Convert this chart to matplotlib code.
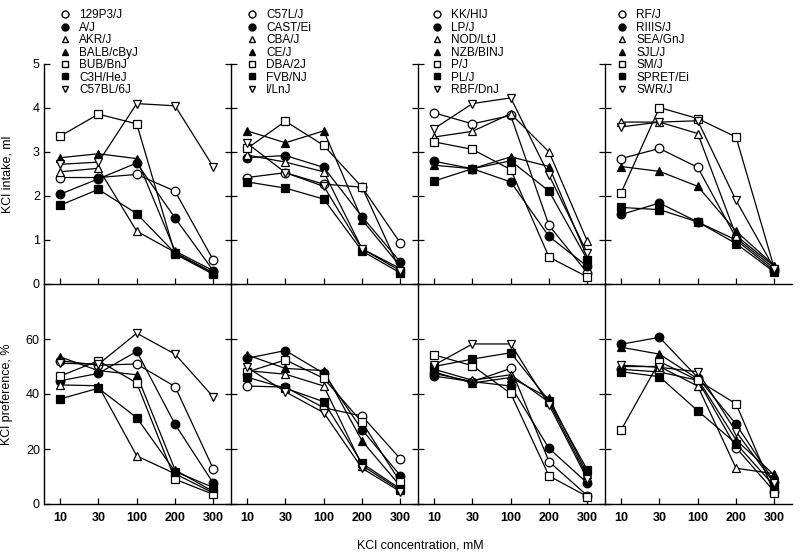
import matplotlib
matplotlib.use("Agg")
import matplotlib.pyplot as plt
from matplotlib.lines import Line2D

plt.rcParams['font.family'] = ['Liberation Sans', 'DejaVu Sans']

concentrations = ["10", "30", "100", "200", "300"]

# marker styles shared by each group of 7 strains: (marker, filled)
marker_styles = [("o", False), ("o", True), ("^", False), ("^", True),
                 ("s", False), ("s", True), ("v", False)]

strains_g1 = ["129P3/J", "A/J", "AKR/J", "BALB/cByJ", "BUB/BnJ", "C3H/HeJ", "C57BL/6J"]
strains_g2 = ["C57L/J", "CAST/Ei", "CBA/J", "CE/J", "DBA/2J", "FVB/NJ", "I/LnJ"]
strains_g3 = ["KK/HIJ", "LP/J", "NOD/LtJ", "NZB/BINJ", "P/J", "PL/J", "RBF/DnJ"]
strains_g4 = ["RF/J", "RIIIS/J", "SEA/GnJ", "SJL/J", "SM/J", "SPRET/Ei", "SWR/J"]

# KCl intake, ml
intake_g1 = [
    [2.42, 2.42, 2.49, 2.11, 0.54],
    [2.04, 2.39, 2.75, 1.50, 0.30],
    [2.55, 2.63, 1.20, 0.72, 0.25],
    [2.87, 2.96, 2.85, 0.75, 0.30],
    [3.36, 3.86, 3.64, 0.68, 0.22],
    [1.79, 2.15, 1.60, 0.70, 0.25],
    [2.72, 2.77, 4.10, 4.05, 2.66],
]
intake_g2 = [
    [2.42, 2.53, 2.27, 2.20, 0.93],
    [2.87, 2.92, 2.65, 1.53, 0.50],
    [2.93, 2.77, 2.55, 0.80, 0.35],
    [3.48, 3.21, 3.48, 1.46, 0.40],
    [3.08, 3.70, 3.15, 2.20, 0.30],
    [2.32, 2.18, 1.93, 0.75, 0.25],
    [3.20, 2.53, 2.22, 0.80, 0.30],
]
intake_g3 = [
    [3.89, 3.64, 3.83, 1.33, 0.25],
    [2.79, 2.62, 2.32, 1.08, 0.40],
    [3.34, 3.47, 3.87, 3.00, 0.97],
    [2.70, 2.62, 2.89, 2.67, 0.60],
    [3.23, 3.06, 2.60, 0.61, 0.16],
    [2.34, 2.62, 2.80, 2.11, 0.55],
    [3.53, 4.10, 4.23, 2.47, 0.70],
]
intake_g4 = [
    [2.85, 3.08, 2.65, 1.05, 0.35],
    [1.58, 1.84, 1.41, 1.00, 0.30],
    [3.68, 3.68, 3.42, 1.10, 0.40],
    [2.67, 2.56, 2.22, 1.20, 0.42],
    [2.07, 4.01, 3.76, 3.34, 0.35],
    [1.74, 1.69, 1.41, 0.92, 0.27],
    [3.57, 3.68, 3.71, 1.90, 0.35],
]

# KCl preference, %
pref_g1 = [
    [52.1, 50.5, 50.9, 42.7, 12.7],
    [44.8, 47.5, 55.5, 29.0, 7.5],
    [43.3, 43.0, 17.5, 11.0, 4.0],
    [53.5, 48.5, 47.0, 12.4, 4.5],
    [46.5, 52.1, 44.0, 9.0, 3.5],
    [38.2, 42.1, 31.4, 11.8, 6.0],
    [51.2, 50.8, 62.1, 54.5, 38.9],
]
pref_g2 = [
    [42.9, 42.5, 35.0, 32.0, 16.4],
    [53.0, 55.8, 47.5, 27.0, 10.3],
    [48.5, 47.2, 42.9, 14.0, 5.0],
    [54.2, 49.3, 48.5, 22.9, 6.5],
    [48.0, 52.4, 45.7, 29.7, 7.9],
    [46.1, 42.1, 37.2, 14.8, 5.5],
    [49.7, 40.8, 33.2, 13.0, 4.5],
]
pref_g3 = [
    [47.5, 44.5, 49.3, 15.4, 3.0],
    [46.5, 44.5, 42.9, 20.2, 7.6],
    [49.0, 45.0, 47.0, 37.0, 10.0],
    [48.0, 44.0, 46.0, 38.5, 11.0],
    [54.2, 50.3, 40.2, 10.2, 2.7],
    [50.0, 52.7, 55.0, 37.5, 12.4],
    [50.5, 58.2, 58.2, 36.0, 9.0],
]
pref_g4 = [
    [49.0, 48.0, 45.0, 20.5, 4.5],
    [58.1, 60.6, 46.0, 29.0, 8.0],
    [50.0, 50.0, 42.9, 13.0, 11.0],
    [57.0, 54.5, 45.5, 23.3, 10.5],
    [26.9, 51.8, 45.0, 36.4, 4.0],
    [48.1, 46.3, 33.9, 22.0, 6.5],
    [50.5, 49.7, 48.1, 26.3, 7.5],
]

groups = [
    (strains_g1, intake_g1, pref_g1),
    (strains_g2, intake_g2, pref_g2),
    (strains_g3, intake_g3, pref_g3),
    (strains_g4, intake_g4, pref_g4),
]

W, H = 800, 559
fig = plt.figure(figsize=(8.0, 5.59), dpi=100)

lefts = [44, 231, 418, 605]
legend_offsets = [15, 15, 13, 11]
pw = 187
top_y0, top_y1 = 284, 64
bot_y0, bot_y1 = 504, 284


def fx(px):
    return px / W


def fy(py):
    return 1 - py / H


xpos = list(range(len(concentrations)))

for col, (strains, intake, pref) in enumerate(groups):
    axt = fig.add_axes([fx(lefts[col]), fy(top_y0), pw / W, (top_y0 - top_y1) / H])
    axb = fig.add_axes([fx(lefts[col]), fy(bot_y0), pw / W, (bot_y0 - bot_y1) / H])
    for ax, data, ylim, yt in ((axt, intake, (0, 5), [0, 1, 2, 3, 4, 5]),
                               (axb, pref, (0, 80), [0, 20, 40, 60])):
        for i, vals in enumerate(data):
            m, filled = marker_styles[i]
            ax.plot(xpos, vals, color="black", lw=0.9, marker=m,
                    markersize=6.2 if m != "s" else 5.8,
                    markerfacecolor="black" if filled else "white",
                    markeredgecolor="black", markeredgewidth=0.9,
                    zorder=3 + i, clip_on=False)
        ax.set_xlim(-0.42, 4.46)
        ax.set_ylim(*ylim)
        ax.set_yticks(yt)
        ax.set_xticks(xpos)
        ax.spines['top'].set_visible(False)
        ax.spines['right'].set_visible(False)
        for s in ('left', 'bottom'):
            ax.spines[s].set_linewidth(1.0)
        ax.tick_params(axis='x', direction='in', length=4, width=0.9, labelsize=9, pad=6)
        ax.tick_params(axis='y', direction='in' if col == 0 else 'inout',
                       length=4 if col == 0 else 8, width=0.9, labelsize=9, pad=3)
        if col != 0:
            ax.set_yticklabels([])
        ax.patch.set_alpha(0)
    axt.set_xticklabels([])
    axb.set_xticklabels(concentrations, fontweight='bold')
    if col == 0:
        axt.set_ylabel("KCl intake, ml", fontsize=9)
        axb.set_ylabel("KCl preference, %", fontsize=9)
        axt.yaxis.set_label_coords(-0.165, 0.5)
        axb.yaxis.set_label_coords(-0.165, 0.5)

    handles = []
    for i in range(len(strains)):
        m, filled = marker_styles[i]
        handles.append(Line2D([], [], linestyle='none', marker=m, markersize=5,
                              markerfacecolor="black" if filled else "white",
                              markeredgecolor="black", markeredgewidth=1.0))
    leg = axt.legend(handles, strains, loc='upper left',
                     bbox_to_anchor=(fx(lefts[col] + legend_offsets[col]), fy(9.5)),
                     bbox_transform=fig.transFigure, frameon=False,
                     fontsize=8.5, handlelength=1.0, handletextpad=0.7,
                     labelspacing=0.035, borderpad=0, borderaxespad=0)
    leg.set_zorder(20)

fig.text(0.525, fy(546), "KCl concentration, mM", ha='center', va='center', fontsize=9)

fig.savefig("out.png", dpi=100)
